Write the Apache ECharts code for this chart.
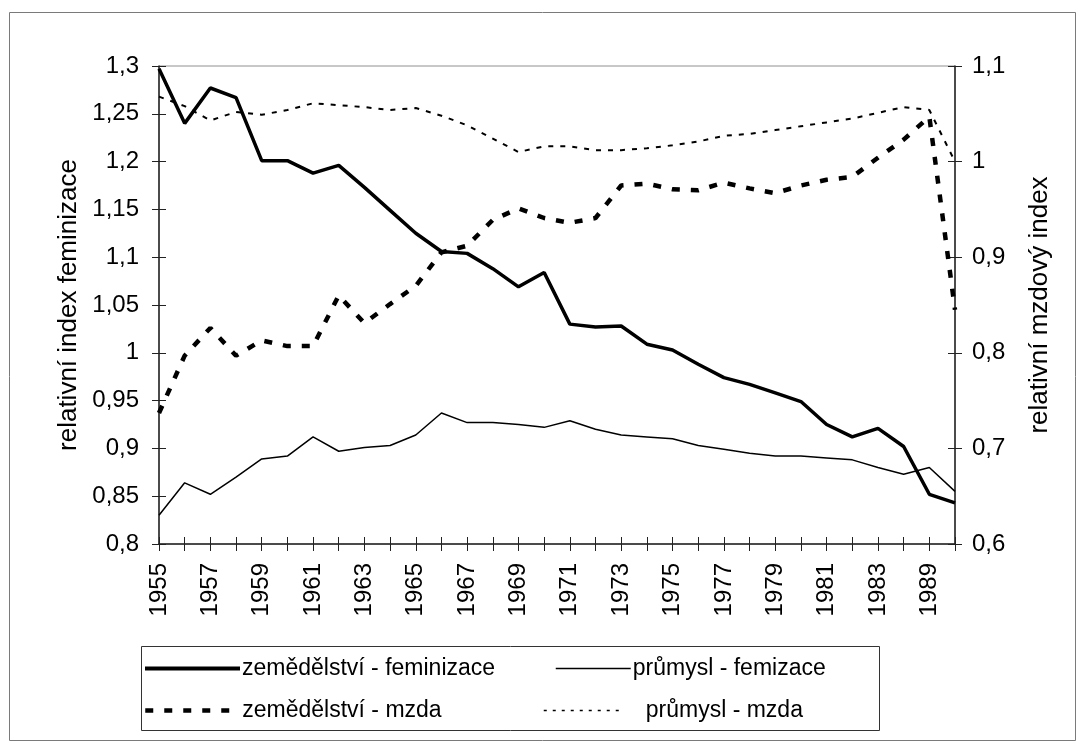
<!DOCTYPE html>
<html>
<head>
<meta charset="utf-8">
<script src="https://cdn.jsdelivr.net/npm/echarts@6/dist/echarts.min.js"></script>
<style>
html,body{margin:0;padding:0;background:#fff;}
#chart{width:1084px;height:749px;}
</style>
</head>
<body>
<div id="chart"></div>
<script>
var years = ['1955','1956','1957','1958','1959','1960','1961','1962','1963','1964',
             '1965','1966','1967','1968','1969','1970','1971','1972','1973','1974',
             '1975','1976','1977','1978','1979','1980','1981','1982','1983','1984',
             '1989','1990'];
var zemFem = [1.297,1.240,1.277,1.267,1.201,1.201,1.188,1.196,1.173,1.149,
              1.125,1.106,1.104,1.088,1.069,1.084,1.030,1.027,1.028,1.009,
              1.003,0.988,0.974,0.967,0.958,0.949,0.925,0.912,0.921,0.902,
              0.852,0.843];
var prumFem = [0.830,0.864,0.852,0.870,0.889,0.892,0.912,0.897,0.901,0.903,
               0.914,0.937,0.927,0.927,0.925,0.922,0.929,0.920,0.914,0.912,
               0.910,0.903,0.899,0.895,0.892,0.892,0.890,0.888,0.880,0.873,
               0.880,0.855];
var zemMzda = [0.737,0.797,0.826,0.797,0.813,0.807,0.807,0.860,0.831,0.851,
               0.870,0.905,0.912,0.939,0.951,0.941,0.936,0.941,0.975,0.977,
               0.971,0.970,0.978,0.972,0.967,0.975,0.981,0.984,1.004,1.023,
               1.047,0.845];
var prumMzda = [1.068,1.058,1.043,1.052,1.049,1.054,1.061,1.059,1.057,1.054,
                1.056,1.048,1.038,1.024,1.010,1.016,1.016,1.012,1.012,1.014,
                1.017,1.021,1.027,1.029,1.033,1.037,1.041,1.045,1.051,1.057,
                1.054,1.000];
var names = ['zemědělství - feminizace','průmysl - femizace','zemědělství - mzda','průmysl - mzda'];
var leftTitle = 'relativní index feminizace';
var rightTitle = 'relativní mzdový index';

var FONT = '"Liberation Sans", Arial, sans-serif';
var AX = '#222';
function fmt(v){ return String(Math.round(v*100)/100).replace('.', ','); }

var chart = echarts.init(document.getElementById('chart'), null, {renderer:'canvas'});
var grid = {left:159, right:129, top:66, bottom:205, show:true, borderColor:'#909090', borderWidth:1};

function leg(name, left, top, w, ls, pad){
  return {data:[name], left:left, top:top, padding:0, itemWidth:w, itemHeight:14, itemGap:0,
    textStyle:{fontSize:23, color:'#000', fontFamily:FONT, padding:[0,0,0,pad]},
    itemStyle:{opacity:0, borderWidth:0},
    lineStyle:ls};
}

var option = {
  backgroundColor:'#fff',
  animation:false,
  textStyle:{fontFamily:FONT},
  grid: grid,
  graphic:[
    {type:'rect', shape:{x:9.5,y:12.5,width:1066,height:728}, style:{fill:null, stroke:'#7a7a7a', lineWidth:1}, z:-1},
    {type:'rect', shape:{x:141.5,y:646.5,width:738,height:84}, style:{fill:null, stroke:'#333', lineWidth:1}, z:-1}
  ],
  legend:[
    leg(names[0], 143, 657, 95, {width:4, color:'#000', type:'solid'}, -3),
    leg(names[1], 555, 657, 75, {width:1.5, color:'#000', type:'solid'}, -3),
    leg(names[2], 143, 699, 95, {width:4.5, color:'#000', type:[8,11]}, -3),
    leg(names[3], 543, 699, 77, {width:1.5, color:'#000', type:[3,6]}, 20)
  ],
  xAxis:[
    {type:'category', data:years, boundaryGap:false,
     axisLine:{lineStyle:{color:AX, width:1.5}},
     axisTick:{show:true, interval:0, length:7, lineStyle:{color:AX, width:1}},
     axisLabel:{interval:1, rotate:90, fontSize:24, color:'#000', margin:19, fontFamily:FONT},
     splitLine:{show:false}},
    {type:'category', data:years, boundaryGap:false, position:'bottom',
     axisLine:{show:false},
     axisTick:{show:true, interval:0, inside:true, length:7, lineStyle:{color:AX, width:1}},
     axisLabel:{show:false}, splitLine:{show:false}}
  ],
  yAxis:[
    {type:'value', min:0.8, max:1.3, interval:0.05, position:'left',
     name:leftTitle, nameLocation:'middle', nameRotate:90, nameGap:72,
     nameTextStyle:{fontSize:26, color:'#000', fontFamily:FONT},
     axisLine:{show:true, lineStyle:{color:AX, width:1.5}},
     axisTick:{show:true, length:7, lineStyle:{color:AX}},
     axisLabel:{fontSize:24, color:'#000', margin:20, formatter:fmt, fontFamily:FONT},
     splitLine:{show:false}},
    {type:'value', min:0.6, max:1.1, interval:0.1, position:'right',
     name:rightTitle, nameLocation:'middle', nameRotate:90, nameGap:72,
     nameTextStyle:{fontSize:26, color:'#000', fontFamily:FONT},
     axisLine:{show:true, lineStyle:{color:AX, width:1.5}},
     axisTick:{show:true, length:7, lineStyle:{color:AX}},
     axisLabel:{fontSize:24, color:'#000', margin:17, formatter:fmt, fontFamily:FONT},
     splitLine:{show:false}},
    {type:'value', min:0.8, max:1.3, interval:0.05, position:'left',
     axisLine:{show:false}, axisTick:{show:true, inside:true, length:7, lineStyle:{color:AX}},
     axisLabel:{show:false}, splitLine:{show:false}},
    {type:'value', min:0.6, max:1.1, interval:0.1, position:'right',
     axisLine:{show:false}, axisTick:{show:true, inside:true, length:7, lineStyle:{color:AX}},
     axisLabel:{show:false}, splitLine:{show:false}}
  ],
  series:[
    {name:names[1], type:'line', data:prumFem, yAxisIndex:0, symbol:'none',
     lineStyle:{color:'#000', width:1.5}, itemStyle:{color:'#000'}},
    {name:names[3], type:'line', data:prumMzda, yAxisIndex:1, symbol:'none',
     lineStyle:{color:'#000', width:2, type:[5,7]}, itemStyle:{color:'#000'}},
    {name:names[2], type:'line', data:zemMzda, yAxisIndex:1, symbol:'none',
     lineStyle:{color:'#000', width:4.5, type:[8,11]}, itemStyle:{color:'#000'}},
    {name:names[0], type:'line', data:zemFem, yAxisIndex:0, symbol:'none',
     lineStyle:{color:'#000', width:3.5}, itemStyle:{color:'#000'}}
  ]
};
chart.setOption(option);
</script>
</body>
</html>
